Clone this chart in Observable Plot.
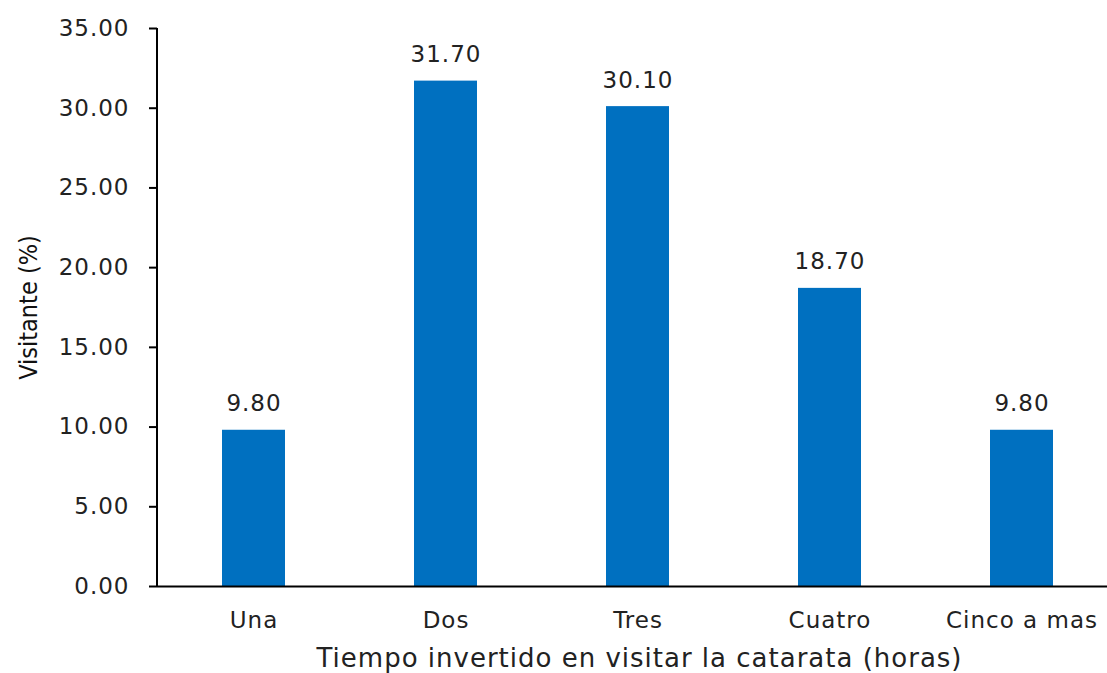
<!DOCTYPE html>
<html>
<head>
<meta charset="utf-8">
<script src="https://cdn.jsdelivr.net/npm/d3@7"></script>
<script src="https://cdn.jsdelivr.net/npm/@observablehq/plot@0.6"></script>
<style>
  html, body { margin: 0; padding: 0; background: #fff; }
  #chart svg { display: block; }
  #chart svg text { letter-spacing: 1px; }
  #chart svg .ytitle text { letter-spacing: 0px; }
</style>
</head>
<body>
<div id="chart"></div>
<script>
const categories = ["Una", "Dos", "Tres", "Cuatro", "Cinco a mas"];
const values = [9.80, 31.70, 30.10, 18.70, 9.80];
const yTicks = [0, 5, 10, 15, 20, 25, 30, 35];
const xTitle = "Tiempo invertido en visitar la catarata (horas)";
const yTitle = "Visitante (%)";

const data = categories.map((c, i) => ({cat: c, value: values[i]}));
const blue = "#0070C0";
const font = "DejaVu Sans, Verdana, sans-serif";

const chart = Plot.plot({
  width: 1107,
  height: 673,
  marginLeft: 157,
  marginRight: 0,
  marginTop: 28,
  marginBottom: 87,
  style: {fontFamily: font, fontSize: "23px", color: "#222", background: "#fff"},
  x: {domain: categories, range: [158, 1118], paddingInner: 0.67, paddingOuter: 0.335},
  y: {domain: [0, 35]},
  marks: [
    Plot.barY(data, {x: "cat", y: "value", fill: blue}),
    Plot.text(data, {
      x: "cat", y: "value", text: d => d.value.toFixed(2),
      lineAnchor: "bottom", dy: -19, fontSize: 23, fill: "#222"
    }),
    Plot.axisY({
      ticks: yTicks, tickFormat: d => d.toFixed(2), tickSize: 8, tickPadding: 20,
      stroke: "black", strokeWidth: 2, fontSize: 23, fill: "#222",
      label: null
    }),
    Plot.axisX({
      tickSize: 0, tickPadding: 25, fontSize: 23, fill: "#222", label: null
    }),
    Plot.text([yTitle], {
      text: d => d, frameAnchor: "left", dx: -129, rotate: -90,
      textAnchor: "middle", lineAnchor: "middle", fontSize: 25,
      fontFamily: "DejaVu Sans Condensed, DejaVu Sans, sans-serif",
      fill: "#111", className: "ytitle"
    }),
    Plot.text([xTitle], {
      text: d => d, frameAnchor: "bottom", dx: 7, dy: 72,
      textAnchor: "middle", lineAnchor: "middle", fontSize: 26, fill: "#222"
    }),
    Plot.ruleY([0], {stroke: "black", strokeWidth: 2}),
    Plot.ruleX([categories[0]], {x: d => d, y1: 0, y2: 35, dx: -97, stroke: "black", strokeWidth: 2})
  ]
});
document.getElementById("chart").appendChild(chart);
</script>
</body>
</html>
